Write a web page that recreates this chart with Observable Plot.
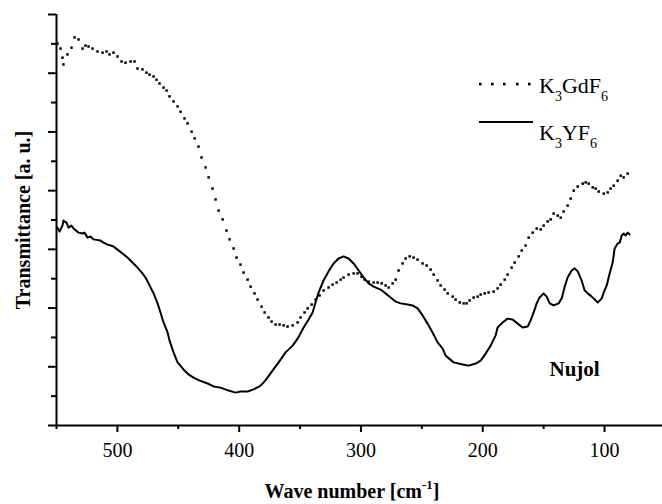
<!DOCTYPE html>
<html><head><meta charset="utf-8">
<script src="https://cdn.jsdelivr.net/npm/d3@7"></script>
<script src="https://cdn.jsdelivr.net/npm/@observablehq/plot@0.6"></script>
<style>
html,body{margin:0;padding:0;background:#fff;overflow:hidden}
#wrap{position:relative;width:662px;height:504px}
#wrap > svg{display:block}
#overlay{position:absolute;left:0;top:0;pointer-events:none}
</style></head><body><div id="wrap"></div>
<script>
// K3GdF6 (dotted, one dot per sample)
const gdWave = [549.2,546.7,545.1,544.3,541.0,537.7,535.2,531.9,528.6,526.2,523.7,520.4,516.3,512.2,508.9,506.5,503.2,499.9,496.6,493.3,489.2,485.9,483.5,479.4,476.1,473.6,470.3,467.9,465.4,462.1,459.6,457.2,453.9,450.6,448.1,444.9,442.4,439.1,436.6,433.4,430.9,427.6,425.1,421.9,419.4,416.9,413.6,410.4,407.9,404.6,402.1,398.9,396.4,393.1,390.6,387.4,384.9,381.6,379.1,375.9,373.4,370.1,366.8,363.5,360.3,356.1,352.0,349.6,346.3,343.8,340.5,337.3,334.0,330.7,326.6,323.3,320.0,316.7,314.3,310.2,306.0,302.8,299.5,297.0,293.7,289.6,286.3,283.0,279.8,277.3,274.0,271.5,269.1,265.8,263.3,260.0,256.8,253.5,249.4,246.1,242.8,240.3,237.1,234.6,231.3,228.8,224.7,222.3,218.9,215.7,213.2,210.8,207.5,204.2,201.7,198.4,195.2,191.1,187.8,185.3,182.0,179.6,176.3,173.8,170.5,168.0,164.8,162.3,159.0,155.7,152.4,150.0,146.7,144.2,141.8,138.5,136.0,133.6,130.3,127.8,125.3,122.0,117.9,115.5,113.0,109.7,107.3,104.8,100.7,97.4,95.0,92.5,89.2,86.7,84.3,81.0];
const gdT = [13.01,12.84,12.53,12.30,12.64,12.87,13.22,13.15,12.84,12.94,12.91,12.84,12.74,12.70,12.74,12.64,12.70,12.57,12.40,12.36,12.40,12.40,12.16,12.13,12.02,11.95,11.89,11.78,11.65,11.51,11.41,11.21,11.04,10.87,10.69,10.46,10.29,10.01,9.78,9.50,9.13,8.79,8.45,8.07,7.70,7.32,7.02,6.64,6.34,6.03,5.72,5.48,5.21,4.97,4.73,4.50,4.29,4.05,3.85,3.68,3.54,3.44,3.44,3.41,3.37,3.41,3.51,3.68,3.85,3.99,4.12,4.29,4.43,4.60,4.70,4.80,4.87,4.97,5.04,5.14,5.18,5.18,5.07,4.97,4.90,4.87,4.87,4.84,4.77,4.70,4.84,4.97,5.28,5.52,5.69,5.76,5.72,5.65,5.52,5.45,5.31,5.14,4.94,4.77,4.63,4.50,4.39,4.29,4.19,4.16,4.16,4.26,4.36,4.39,4.46,4.50,4.53,4.56,4.67,4.80,4.97,5.14,5.38,5.55,5.76,5.96,6.13,6.40,6.57,6.71,6.68,6.81,6.95,7.02,7.22,7.15,7.08,7.29,7.49,7.73,8.00,8.14,8.24,8.28,8.24,8.11,8.07,7.97,7.90,7.94,8.07,8.17,8.34,8.51,8.45,8.58];

// K3YF6 (solid)
const yWave = [549.2,547.5,545.1,544.3,541.8,540.1,537.7,536.0,531.9,528.6,527.0,524.5,522.1,519.6,513.9,511.4,508.1,505.6,503.2,499.9,495.8,491.7,487.6,483.5,479.4,476.9,474.4,470.3,467.0,464.6,462.1,458.8,457.2,453.9,450.6,445.7,441.6,437.5,432.4,425.9,421.0,415.3,408.7,403.0,398.9,393.1,388.2,383.3,380.0,376.7,372.6,367.6,361.9,356.1,352.0,347.1,343.0,339.7,337.3,334.8,330.7,326.6,322.5,318.4,314.3,310.2,306.0,301.9,297.8,293.7,289.6,283.9,279.8,275.7,271.5,267.4,261.7,257.6,253.5,249.4,245.3,241.2,237.1,232.9,230.5,223.9,216.5,211.6,205.8,201.7,197.6,193.5,189.4,187.8,183.7,179.6,175.5,171.3,167.3,163.1,160.7,158.2,155.7,153.3,150.0,147.5,145.0,141.8,137.7,135.2,132.7,130.3,127.0,124.5,122.0,118.8,116.3,113.8,110.5,108.9,105.6,102.3,100.7,98.2,95.8,93.3,91.7,89.2,87.5,85.9,84.3,82.6,81.0,79.4];
const yT = [6.74,6.61,6.81,6.98,6.91,6.74,6.81,6.71,6.57,6.54,6.57,6.40,6.44,6.34,6.30,6.23,6.16,6.13,6.10,5.99,5.86,5.72,5.55,5.38,5.18,5.04,4.84,4.50,4.16,3.85,3.51,3.17,2.90,2.49,2.15,1.91,1.74,1.63,1.53,1.43,1.33,1.29,1.19,1.12,1.16,1.16,1.23,1.33,1.46,1.63,1.87,2.15,2.49,2.72,2.96,3.34,3.61,3.85,4.19,4.53,4.94,5.25,5.52,5.69,5.76,5.69,5.52,5.28,5.04,4.84,4.73,4.63,4.50,4.36,4.22,4.16,4.12,4.09,3.99,3.75,3.47,3.17,2.83,2.62,2.38,2.15,2.08,2.04,2.11,2.21,2.45,2.72,3.07,3.34,3.51,3.64,3.61,3.47,3.34,3.37,3.58,3.85,4.16,4.36,4.50,4.39,4.16,4.09,4.16,4.33,4.73,5.04,5.28,5.35,5.25,4.94,4.60,4.50,4.39,4.33,4.19,4.33,4.53,4.77,5.18,5.55,6.03,6.20,6.23,6.47,6.54,6.47,6.57,6.51];

const xMajorTicks = [500, 400, 300, 200, 100];
const xMinorTicks = [550, 450, 350, 250, 150];
const yMajorTicks = [0, 2, 4, 6, 8, 10, 12, 14];
const yMinorTicks = [1, 3, 5, 7, 9, 11, 13];
const seriesNames = ["K3GdF6", "K3YF6"];
const noteText = ["Nujol"];
const noteWave = [124.6];
const noteT = [1.93];
const xTitle = "Wave number [cm";
const yTitle = "Transmittance [a. u.]";

const gd = gdWave.map((w, i) => ({wn: w, t: gdT[i]})).filter(d => d.t != null);
const yf = yWave.map((w, i) => ({wn: w, t: yT[i]})).filter(d => d.t != null);
const notes = noteText.map((s, i) => ({s, wn: noteWave[i], t: noteT[i]}));

const serif = "'Liberation Serif', 'Times New Roman', Times, serif";

const chart = Plot.plot({
  width: 662, height: 504,
  marginLeft: 56, marginRight: 0, marginTop: 14, marginBottom: 79,
  x: {domain: [550, 52.4], label: null},
  y: {domain: [0, 14], label: null},
  style: {fontFamily: serif, fontSize: "20px", background: "white", color: "black"},
  marks: [
    Plot.axisY({ticks: yMajorTicks, tickSize: 8, strokeWidth: 2, tickFormat: () => "", label: null}),
    Plot.axisY({ticks: yMinorTicks, tickSize: 5, strokeWidth: 2, tickFormat: () => "", label: null}),
    Plot.axisX({ticks: xMajorTicks, tickSize: 7, tickPadding: 10, strokeWidth: 2, fontSize: 20, label: null}),
    Plot.axisX({ticks: xMinorTicks, tickSize: 4, strokeWidth: 2, tickFormat: () => "", label: null}),
    Plot.ruleX([550], {stroke: "black", strokeWidth: 2}),
    Plot.ruleY([0], {stroke: "black", strokeWidth: 2}),
    Plot.line(yf, {x: "wn", y: "t", stroke: "black", strokeWidth: 2, strokeLinejoin: "round"}),
    Plot.dot(gd, {x: "wn", y: "t", symbol: "square", r: 1.4, fill: "black", stroke: null}),
    Plot.text(notes, {x: "wn", y: "t", text: "s", fontWeight: "bold", fontSize: 21, fill: "black"})
  ]
});
const wrap = document.getElementById("wrap");
wrap.appendChild(chart);

// Overlay: legend and axis titles
const ns = "http://www.w3.org/2000/svg";
const ov = document.createElementNS(ns, "svg");
ov.setAttribute("id", "overlay");
ov.setAttribute("width", 662);
ov.setAttribute("height", 504);
ov.setAttribute("font-family", serif);
const sub = (s) => `<tspan font-size="14" dy="8">${s}</tspan>`;
const back = (s) => `<tspan font-size="22" dy="-8">${s}</tspan>`;
let legendDots = "";
[479, 491, 503, 516, 528].forEach(x => { legendDots += `<rect x="${x}" y="82.8" width="2.6" height="2.6" fill="black"/>`; });
ov.innerHTML = `
  ${legendDots}
  <text x="539" y="93" font-size="22" fill="black">K${sub("3")}${back("GdF")}${sub("6")}</text>
  <line x1="479" x2="533" y1="122" y2="122" stroke="black" stroke-width="2"/>
  <text x="539" y="140" font-size="22" fill="black">K${sub("3")}${back("YF")}${sub("6")}</text>
  <text transform="translate(30,220) rotate(-90)" text-anchor="middle" font-size="20" font-weight="bold" fill="black">${yTitle}</text>
  <text x="352" y="498" text-anchor="middle" font-size="20" font-weight="bold" fill="black">${xTitle}<tspan font-size="13" dy="-9">-1</tspan><tspan dy="9">]</tspan></text>
`;
wrap.appendChild(ov);
</script></body></html>
